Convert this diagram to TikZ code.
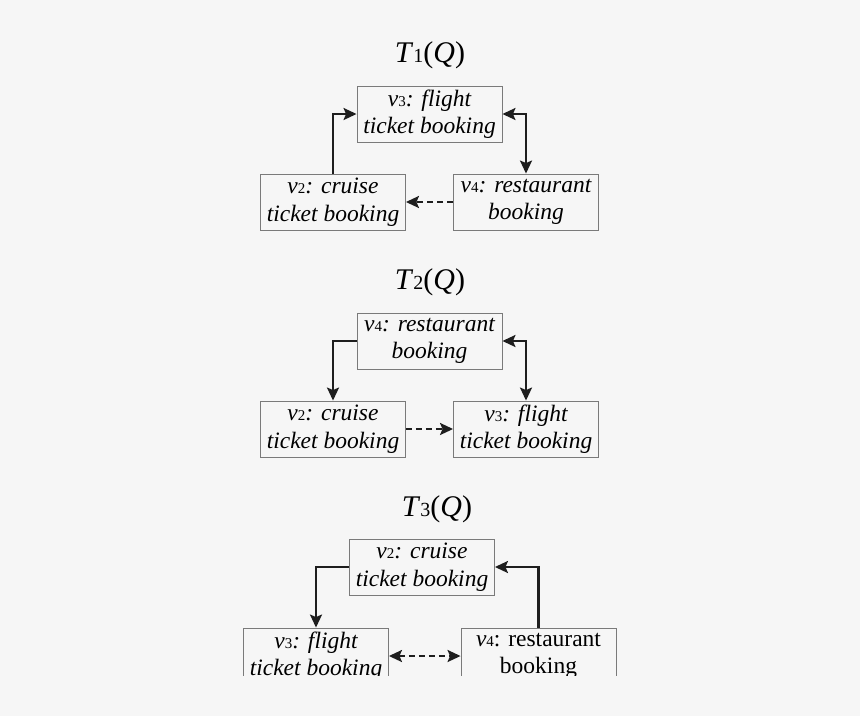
\documentclass[tikz,border=0pt]{standalone}
\usepackage{fontspec}
\setmainfont{Liberation Serif}
\usetikzlibrary{positioning, arrows.meta}

\definecolor{bgcol}{HTML}{F6F6F6}
\definecolor{boxcol}{HTML}{7A7A7A}
\definecolor{inkcol}{HTML}{1E1E1E}

% v with a small index
\newcommand{\vidx}[1]{\textit{v}{\fontsize{15}{15}\selectfont\upshape #1}}
% title T_i(Q)
\newcommand{\ttl}[1]{\textit{T}{\fontsize{20}{20}\selectfont #1}(\textit{Q})}

\begin{document}
\begin{tikzpicture}[
      x=1pt, y=-1pt,
      % box style
      block/.style={rectangle, draw=boxcol, line width=0.9pt, minimum width=145pt, minimum height=56pt,
                    inner sep=0pt, align=center, font=\fontsize{23.5}{27.5}\selectfont\itshape, text=black},
      % arrow style
      line/.style={draw=inkcol, line width=2.2pt, -{Stealth[length=13pt, width=12pt, inset=2.5pt]}},
      dline/.style={line, dashed, dash pattern=on 6pt off 4pt},
      title/.style={font=\fontsize{30}{32}\selectfont}
    ]

    % --- background ---
    \fill[bgcol] (0,0) rectangle (860,716);
    \useasboundingbox (0,0) rectangle (860,716);

    % --- T1(Q) ---
    \node [title] (t1) at (430,55) {\ttl{1}};
    \node [block] (a3) at (429.5,114) {\vidx{3}: flight\\ticket booking};
    \node [block] (a2) at (333,202) {\vidx{2}: cruise\\ticket booking};
    \node [block] (a4) at (526,202) {\vidx{4}: restaurant\\booking};

    \draw [line] (a2.north) |- (a3.west);
    \draw [line, {Stealth[length=13pt, width=12pt, inset=2.5pt]}-{Stealth[length=13pt, width=12pt, inset=2.5pt]}] (a3.east) -| (a4.north);
    \draw [dline] (a4.west) -- (a2.east);

    % --- T2(Q) ---
    \node [title] (t2) at (430,282) {\ttl{2}};
    \node [block] (b4) at (429.5,341) {\vidx{4}: restaurant\\booking};
    \node [block] (b2) at (333,429) {\vidx{2}: cruise\\ticket booking};
    \node [block] (b3) at (526,429) {\vidx{3}: flight\\ticket booking};

    \draw [line] (b4.west) -| (b2.north);
    \draw [line, {Stealth[length=13pt, width=12pt, inset=2.5pt]}-{Stealth[length=13pt, width=12pt, inset=2.5pt]}] (b4.east) -| (b3.north);
    \draw [dline] (b2.east) -- (b3.west);

    % --- T3(Q), cut off at the bottom ---
    \node [title] (t3) at (437,509) {\ttl{3}};
    \begin{scope}
      \clip (0,0) rectangle (860,675);
      \node [block] (c2) at (422,567) {\vidx{2}: cruise\\ticket booking};
      \node [block] (c3) at (316,656) {\vidx{3}: flight\\ticket booking};
      \node [block, minimum width=155pt, font=\fontsize{23.5}{27.5}\selectfont\upshape] (c4) at (538.5,656) {\vidx{4}: restaurant\\booking};

      \draw [line] (c2.west) -| (c3.north);
      \draw [line] (c4.north) |- (c2.east);
      \draw [dline, {Stealth[length=13pt, width=12pt, inset=2.5pt]}-{Stealth[length=13pt, width=12pt, inset=2.5pt]}] (c3.east) -- (c4.west);
    \end{scope}

\end{tikzpicture}
\end{document}
